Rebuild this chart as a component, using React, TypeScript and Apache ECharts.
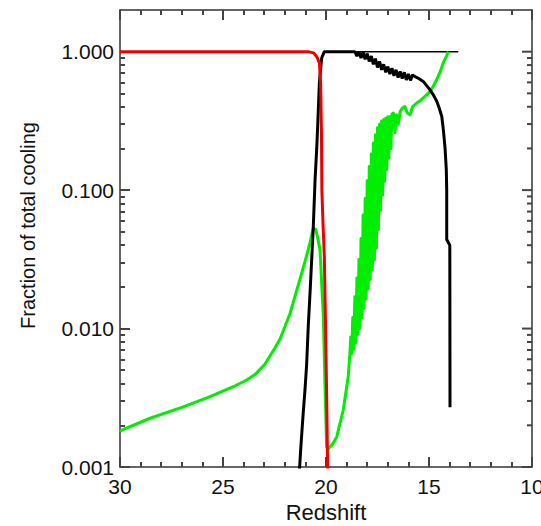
import React, { useEffect, useRef } from 'react';
import * as echarts from 'echarts';

// ---- Data ----
// Red curve
const redZ = [30, 22, 21.2, 20.9, 20.78, 20.6, 20.45, 20.32, 20.26, 20.22, 20.2, 20.15, 20.08, 20.02, 19.97, 19.92, 19.88];
const redV = [1, 1, 0.999, 0.997, 0.993, 0.98, 0.92, 0.83, 0.59, 0.26, 0.1, 0.06, 0.033, 0.01, 0.0034, 0.001, 0.0007];

// Black (thick) curve
const blackZ = [
  21.32, 21.28, 21.22, 21.12, 21.02, 20.94, 20.86, 20.76, 20.68, 20.62, 20.53, 20.45, 20.4, 20.32, 20.21, 20.08,
  19.5, 19.0, 18.7, 18.6, 18.5, 18.4, 18.3, 18.2, 18.1, 18.0, 17.9, 17.8, 17.7, 17.6, 17.5, 17.4, 17.3, 17.2,
  17.1, 17.0, 16.9, 16.8, 16.7, 16.6, 16.5, 16.4, 16.3, 16.2, 16.1, 16.0, 15.9, 15.8, 15.68, 15.5, 15.28,
  14.95, 14.8, 14.63, 14.5, 14.38, 14.3, 14.22, 14.16, 14.14, 14.14, 13.99, 13.98,
];
const blackV = [
  0.0008, 0.001, 0.0014, 0.0023, 0.0036, 0.0055, 0.0105, 0.02, 0.035, 0.053, 0.119, 0.2, 0.3, 0.6, 0.9, 1.0,
  1.0, 1.0, 1.0, 1.0, 0.93, 1.0, 0.9, 0.99, 0.88, 0.97, 0.85, 0.93, 0.81, 0.89, 0.77, 0.85, 0.74, 0.81,
  0.71, 0.78, 0.69, 0.76, 0.67, 0.74, 0.65, 0.72, 0.64, 0.71, 0.625, 0.69, 0.62, 0.68, 0.66, 0.64, 0.61,
  0.53, 0.49, 0.44, 0.39, 0.34, 0.27, 0.2, 0.14, 0.1, 0.044, 0.04, 0.0027,
];

// Black (thin) total line
const totalZ = [20.08, 13.58];
const totalV = [1.0, 1.0];

// Green curve
const greenZ = [
  30, 29.92, 28.54, 26.93, 25.63, 24.5, 23.85, 23.45, 22.96, 22.48, 22.23, 21.75, 21.26, 20.97, 20.78, 20.62,
  20.5, 20.4, 20.29, 20.13, 20.05, 19.97, 19.9, 19.7, 19.48, 19.16, 18.92, 18.83,
  18.8, 18.75, 18.7, 18.65, 18.6, 18.55, 18.5, 18.45, 18.4, 18.35, 18.3, 18.25, 18.2, 18.15, 18.1, 18.05,
  18.0, 17.95, 17.9, 17.85, 17.8, 17.75, 17.7, 17.65, 17.6, 17.55, 17.5, 17.45, 17.4, 17.35, 17.3, 17.25,
  17.2, 17.15, 17.1, 17.05, 17.0, 16.95, 16.9, 16.85,
  16.8, 16.73, 16.65, 16.58, 16.49, 16.4, 16.3, 16.17, 16.05, 15.92, 15.8, 15.6, 15.45, 15.28, 14.95, 14.8,
  14.63, 14.45, 14.31, 14.15, 14.06,
];
const greenV = [
  0.0018, 0.00185, 0.00225, 0.00272, 0.00322, 0.0038, 0.00425, 0.00465, 0.00555, 0.00724, 0.0084, 0.0128,
  0.0228, 0.0324, 0.0416, 0.053, 0.052, 0.045, 0.037, 0.0122, 0.004, 0.0014, 0.00135, 0.00145, 0.00165,
  0.00258, 0.0045, 0.007,
  0.0087, 0.0066, 0.012, 0.0071, 0.017, 0.0079, 0.0232, 0.0091, 0.0316, 0.01, 0.0447, 0.012, 0.066, 0.014,
  0.087, 0.0164, 0.117, 0.0193, 0.148, 0.0226, 0.182, 0.0266, 0.219, 0.0313, 0.251, 0.038, 0.282, 0.0519,
  0.299, 0.0716, 0.316, 0.0923, 0.324, 0.116, 0.331, 0.141, 0.339, 0.17, 0.339, 0.2,
  0.355, 0.36, 0.26, 0.35, 0.3, 0.37, 0.39, 0.402, 0.36, 0.35, 0.4, 0.426, 0.44, 0.463, 0.516, 0.56,
  0.627, 0.72, 0.83, 0.93, 1.0,
];

// Axis ticks and labels
const yMajorTicks = [0.001, 0.01, 0.1, 1];
const yMajorLabels = ['0.001', '0.010', '0.100', '1.000'];
const yMinorTicks = [
  0.002, 0.003, 0.004, 0.005, 0.006, 0.007, 0.008, 0.009,
  0.02, 0.03, 0.04, 0.05, 0.06, 0.07, 0.08, 0.09,
  0.2, 0.3, 0.4, 0.5, 0.6, 0.7, 0.8, 0.9,
];
const xTitle = 'Redshift';
const yTitle = 'Fraction of total cooling';

const X_MIN = 10;
const X_MAX = 30;
const Y_MIN = 0.001;
const Y_MAX = 2;
const MAJOR_LEN = 10;
const MINOR_LEN = 5;

const zip = (xs: number[], ys: number[]) => xs.map((x, i) => [x, ys[i]]);

const FONT = 'Liberation Sans, Arial, sans-serif';
const AXIS_COLOR = '#333';
const TICK_COLOR = '#444';
const TICK_WIDTH = 2;
const TEXT_COLOR = '#111';

function yLabel(v: number) {
  for (let i = 0; i < yMajorTicks.length; i++) {
    if (Math.abs(v - yMajorTicks[i]) / yMajorTicks[i] < 1e-6) return yMajorLabels[i];
  }
  return '';
}

// right-hand y ticks (pointing inwards), drawn through the axes' own scales
function renderRightTick(params: any, api: any) {
  const v = api.value(1);
  const len = api.value(2);
  const r = api.coord([X_MIN, v]);
  return {
    type: 'line',
    shape: { x1: r[0], y1: r[1], x2: r[0] - len, y2: r[1] },
    style: { stroke: TICK_COLOR, lineWidth: TICK_WIDTH },
  };
}

function buildOption() {
  const rightTickData = [
    ...yMajorTicks.map((v) => [X_MIN, v, MAJOR_LEN]),
    ...yMinorTicks.map((v) => [X_MIN, v, MINOR_LEN]),
  ];

  const xAxisDef = (pos: 'bottom' | 'top', labels: boolean) => ({
    type: 'value',
    position: pos,
    min: X_MIN,
    max: X_MAX,
    interval: 5,
    inverse: true,
    axisLine: { show: true, onZero: false, lineStyle: { color: AXIS_COLOR, width: 1.5 } },
    axisTick: { show: true, inside: true, length: MAJOR_LEN, lineStyle: { color: TICK_COLOR, width: TICK_WIDTH } },
    minorTick: { show: true, splitNumber: 5, length: MINOR_LEN, lineStyle: { color: TICK_COLOR, width: TICK_WIDTH } },
    splitLine: { show: false },
    axisLabel: labels
      ? { show: true, color: TEXT_COLOR, fontSize: 21, fontFamily: FONT, margin: 9 }
      : { show: false },
    ...(labels
      ? {
          name: xTitle,
          nameLocation: 'middle',
          nameGap: 33,
          nameTextStyle: { fontSize: 22, color: TEXT_COLOR, fontFamily: FONT },
        }
      : {}),
  });

  return {
    animation: false,
    grid: { left: 120, right: 9, top: 10, bottom: 59, outerBoundsMode: 'none' },
    xAxis: [xAxisDef('bottom', true), xAxisDef('top', false)],
    yAxis: [
      {
        type: 'log',
        position: 'left',
        min: Y_MIN,
        max: Y_MAX,
        axisLine: { show: true, onZero: false, lineStyle: { color: AXIS_COLOR, width: 1.5 } },
        axisTick: {
          show: true,
          inside: true,
          length: MAJOR_LEN,
          customValues: yMajorTicks,
          lineStyle: { color: TICK_COLOR, width: TICK_WIDTH },
        },
        splitLine: { show: false },
        axisLabel: {
          show: true,
          customValues: yMajorTicks,
          color: TEXT_COLOR,
          fontSize: 21,
          fontFamily: FONT,
          margin: 6,
          formatter: yLabel,
        },
        name: yTitle,
        nameLocation: 'middle',
        nameGap: 82,
        nameTextStyle: { fontSize: 20, color: TEXT_COLOR, fontFamily: FONT, padding: [0, 0, 0, 26] },
      },
      {
        type: 'log',
        position: 'left',
        min: Y_MIN,
        max: Y_MAX,
        axisLine: { show: false },
        axisTick: {
          show: true,
          inside: true,
          length: MINOR_LEN,
          customValues: yMinorTicks,
          lineStyle: { color: TICK_COLOR, width: TICK_WIDTH },
        },
        splitLine: { show: false },
        axisLabel: { show: false },
      },
      {
        type: 'log',
        position: 'right',
        min: Y_MIN,
        max: Y_MAX,
        axisLine: { show: true, onZero: false, lineStyle: { color: AXIS_COLOR, width: 1.5 } },
        axisTick: { show: false },
        splitLine: { show: false },
        axisLabel: { show: false },
      },
    ],
    series: [
      {
        type: 'custom',
        name: 'rightTicks',
        renderItem: renderRightTick,
        data: rightTickData,
        encode: { x: 0, y: 1 },
        silent: true,
        z: 5,
      },
      {
        type: 'line',
        name: 'total',
        data: zip(totalZ, totalV),
        showSymbol: false,
        symbol: 'none',
        lineStyle: { color: '#000', width: 1.5 },
        z: 1,
      },
      {
        type: 'line',
        name: 'green',
        data: zip(greenZ, greenV),
        showSymbol: false,
        symbol: 'none',
        lineStyle: { color: '#00ee00', width: 3, join: 'round' },
        z: 2,
      },
      {
        type: 'line',
        name: 'black',
        data: zip(blackZ, blackV),
        showSymbol: false,
        symbol: 'none',
        lineStyle: { color: '#000', width: 3 },
        z: 3,
      },
      {
        type: 'line',
        name: 'red',
        data: zip(redZ, redV),
        showSymbol: false,
        symbol: 'none',
        lineStyle: { color: '#ee0000', width: 3 },
        z: 4,
      },
    ],
  };
}

export default function App() {
  const ref = useRef<HTMLDivElement>(null);
  useEffect(() => {
    document.body.style.margin = '0';
    const chart = echarts.init(ref.current!, null, { renderer: 'svg' });
    chart.setOption(buildOption() as any);
    return () => chart.dispose();
  }, []);
  return <div ref={ref} style={{ width: 541, height: 526 }} />;
}
